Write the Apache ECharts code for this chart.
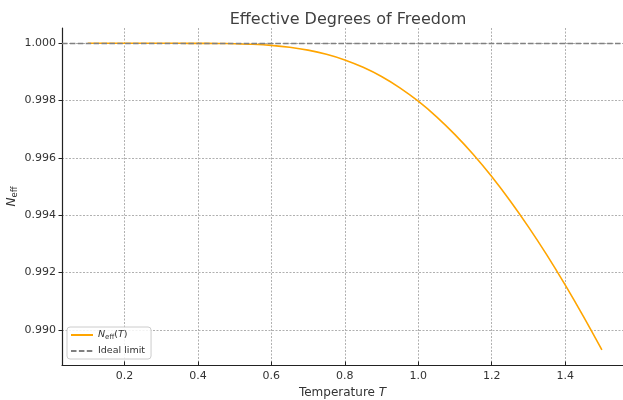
<!DOCTYPE html>
<html>
<head>
<meta charset="utf-8">
<script src="https://cdn.jsdelivr.net/npm/echarts@6/dist/echarts.min.js"></script>
<style>
  html, body { margin: 0; padding: 0; background: #fff; }
  #chart { width: 623px; height: 400px; }
</style>
</head>
<body>
<div id="chart"></div>
<script>
// temperature samples and effective degrees of freedom
const temps = [0.10, 0.15, 0.20, 0.25, 0.30, 0.35, 0.40, 0.45, 0.50, 0.55,
  0.60, 0.65, 0.70, 0.75, 0.80, 0.85, 0.90, 0.95, 1.00, 1.05,
  1.10, 1.15, 1.20, 1.25, 1.30, 1.35, 1.40, 1.45, 1.50];
const neff = [1.000000, 1.000000, 1.000000, 1.000000, 1.000000, 1.000000, 0.999999, 0.999996, 0.999986, 0.999966,
  0.999928, 0.999863, 0.999763, 0.999618, 0.999421, 0.999163, 0.998842, 0.998446, 0.997979, 0.997435,
  0.996814, 0.996120, 0.995350, 0.994505, 0.993592, 0.992614, 0.991567, 0.990460, 0.989299];
const idealLimit = 1.0;

const font = 'DejaVu Sans';
const chart = echarts.init(document.getElementById('chart'));

const gridStyle = { color: '#b0b0b0', width: 1, type: [2, 1.5] };

chart.setOption({
  animation: false,
  textStyle: { fontFamily: font },
  title: {
    text: 'Effective Degrees of Freedom',
    left: 343,
    top: 7,
    textAlign: 'center',
    textStyle: { fontFamily: font, fontSize: 16, fontWeight: 'normal', color: '#404040' }
  },
  grid: { left: 62, right: 0, top: 28, bottom: 35, outerBoundsMode: 'none' },
  legend: {
    orient: 'vertical',
    left: 67,
    top: 327,
    padding: [3, 6, 3, 3],
    itemGap: 5,
    itemWidth: 22,
    itemHeight: 10,
    borderColor: '#cccccc',
    borderWidth: 1,
    borderRadius: 3,
    backgroundColor: 'rgba(255,255,255,0.85)',
    itemStyle: { opacity: 0 },
    data: ['neff', 'Ideal limit'],
    formatter(name) {
      if (name === 'neff') return '{i|N}{s|eff}{n|(}{i|T}{n|)}';
      return name;
    },
    textStyle: {
      fontFamily: font, fontSize: 9.5, color: '#333',
      rich: {
        i: { fontFamily: font, fontSize: 9.5, fontStyle: 'italic', color: '#333' },
        n: { fontFamily: font, fontSize: 9.5, color: '#333' },
        s: { fontFamily: font, fontSize: 7, color: '#333', padding: [5, 0, 0, 0] }
      }
    }
  },
  xAxis: {
    type: 'value',
    min: 0.03,
    max: 1.5575,
    minInterval: 0.2,
    maxInterval: 0.2,
    name: 'Temperature {i|T}',
    nameLocation: 'middle',
    nameGap: 18,
    nameTextStyle: {
      fontFamily: font, fontSize: 12, color: '#333',
      rich: { i: { fontFamily: font, fontSize: 12, fontStyle: 'italic', color: '#333' } }
    },
    axisLine: { lineStyle: { color: '#222', width: 1.2 } },
    axisTick: { inside: true, length: 3.5, lineStyle: { color: '#222' } },
    axisLabel: {
      showMinLabel: false, showMaxLabel: false,
      fontFamily: font, fontSize: 11, color: '#333', margin: 6,
      formatter: v => v.toFixed(1)
    },
    splitLine: { show: true, showMinLine: false, showMaxLine: false, lineStyle: gridStyle }
  },
  yAxis: {
    type: 'value',
    min: 0.98877,
    max: 1.000535,
    minInterval: 0.002,
    maxInterval: 0.002,
    name: '{i|N}{s|eff}',
    nameLocation: 'middle',
    nameRotate: 90,
    nameGap: 43,
    nameMoveOverlap: false,
    nameTextStyle: {
      fontFamily: font, fontSize: 12, color: '#333',
      rich: {
        i: { fontFamily: font, fontSize: 12, fontStyle: 'italic', color: '#333' },
        s: { fontFamily: font, fontSize: 8.5, color: '#333', padding: [5, 0, 0, 0] }
      }
    },
    axisLine: { show: true, lineStyle: { color: '#222', width: 1.2 } },
    axisTick: { show: true, inside: false, length: 3.5, lineStyle: { color: '#222' } },
    axisLabel: {
      showMinLabel: false, showMaxLabel: false,
      fontFamily: font, fontSize: 11, color: '#333', margin: 6,
      formatter: v => v.toFixed(3)
    },
    splitLine: { show: true, showMinLine: false, showMaxLine: false, lineStyle: gridStyle }
  },
  series: [
    {
      name: 'neff',
      type: 'line',
      data: temps.map((t, i) => [t, neff[i]]),
      smooth: 0.3,
      symbol: 'none',
      lineStyle: { color: '#ffa500', width: 1.6 },
      itemStyle: { color: '#ffa500' },
      z: 3
    },
    {
      name: 'Ideal limit',
      type: 'line',
      data: [],
      symbol: 'none',
      lineStyle: { color: '#808080', width: 1.4, type: [5.5, 2.4] },
      itemStyle: { color: '#808080' },
      markLine: {
        silent: true,
        symbol: 'none',
        label: { show: false },
        lineStyle: { color: '#808080', width: 1.4, type: [5.5, 2.4] },
        data: [{ yAxis: idealLimit }]
      },
      z: 4
    }
  ]
});
</script>
</body>
</html>
